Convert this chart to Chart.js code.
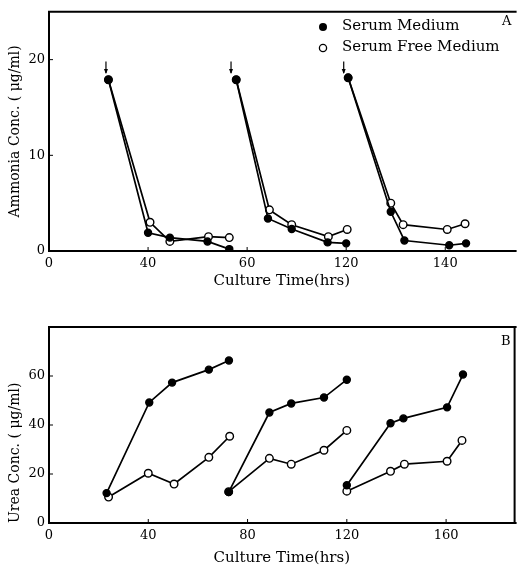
<!DOCTYPE html>
<html>
<head>
<meta charset="utf-8">
<script src="https://cdn.jsdelivr.net/npm/chart.js@4.4.1/dist/chart.umd.min.js"></script>
<style>
  body { margin: 0; background: #fff; }
  .panel { position: absolute; left: 0; }
</style>
</head>
<body>
<div class="panel" style="top:0px"><canvas id="chartA" width="520" height="290"></canvas></div>
<div class="panel" style="top:290px"><canvas id="chartB" width="520" height="279"></canvas></div>
<script>
// Panel A - ammonia, null splits the three feeding cycles
const ammoniaSerumHrs = [24, 40, 48.8, 64, 72.8, null, 75.6, 88.4, 98, 112.5, 120, null, 120.8, 138, 143.5, 161.6, 168.4];
const ammoniaSerum    = [17.9, 1.9, 1.4, 1.0, 0.2, null, 17.9, 3.4, 2.3, 0.9, 0.8, null, 18.1, 4.1, 1.1, 0.6, 0.8];
const ammoniaFreeHrs  = [24, 40.8, 48.8, 64.4, 72.8, null, 75.6, 89, 98, 112.8, 120.4, null, 120.8, 138, 143, 160.8, 168];
const ammoniaFree     = [17.9, 3.0, 1.0, 1.5, 1.4, null, 17.9, 4.3, 2.75, 1.5, 2.25, null, 18.1, 5.0, 2.75, 2.25, 2.85];
const feedHrs = [23, 73.5, 119];

// Panel B - urea
const ureaSerumHrs = [23.2, 40.4, 49.6, 64.4, 72.5, null, 72.4, 88.8, 97.6, 110.8, 120, null, 120, 137.6, 142.8, 160.4, 166.8];
const ureaSerum    = [12.2, 49.2, 57.3, 62.6, 66.3, null, 12.6, 45.1, 48.8, 51.2, 58.5, null, 15.4, 40.7, 42.7, 47.2, 60.6];
const ureaFreeHrs  = [24, 40, 50.4, 64.4, 72.8, null, 72.4, 88.8, 97.6, 110.8, 120, null, 120, 137.6, 143.2, 160.4, 166.4];
const ureaFree     = [10.6, 20.3, 15.9, 26.8, 35.4, null, 12.8, 26.4, 24.0, 29.7, 37.8, null, 13.0, 21.1, 24.0, 25.2, 33.7];

// tick values and the labels printed under them
const xTicks = [0, 40, 80, 120, 160];
const xTickLabelsA = ['0', '40', '60', '120', '140'];
const xTickLabelsB = ['0', '40', '80', '120', '160'];
const yTicksA = [0, 10, 20];
const yTicksB = [0, 20, 40, 60];

const FONT = "'DejaVu Serif', serif";

function pts(hrs, vals) {
  return hrs.map((x, i) => ({ x: x === null ? hrs[i - 1] : x, y: vals[i] }));
}

function ds(hrs, vals, filled) {
  return {
    data: pts(hrs, vals),
    borderColor: '#000',
    borderWidth: 1.7,
    pointRadius: filled ? 3.5 : 3.8,
    pointBackgroundColor: filled ? '#000' : '#fff',
    pointBorderColor: '#000',
    pointBorderWidth: 1.4,
    tension: 0,
    spanGaps: false
  };
}

// frame round the plot plus short inward ticks
function makeFrame(rightEdge) {
  return {
    id: 'frame',
    afterDraw(chart) {
      const { ctx, chartArea: a, scales } = chart;
      ctx.save();
      ctx.strokeStyle = '#000';
      ctx.lineWidth = 2;
      ctx.beginPath();
      ctx.moveTo(a.right + 2, a.top);
      ctx.lineTo(a.left, a.top);
      ctx.lineTo(a.left, a.bottom);
      ctx.lineTo(a.right + 2, a.bottom);
      if (rightEdge) {
        ctx.moveTo(a.right, a.top);
        ctx.lineTo(a.right, a.bottom);
      }
      ctx.stroke();
      ctx.lineWidth = 1;
      ctx.beginPath();
      scales.x.ticks.forEach(t => {
        const x = scales.x.getPixelForValue(t.value);
        ctx.moveTo(x, a.bottom); ctx.lineTo(x, a.bottom - 4);
      });
      scales.y.ticks.forEach(t => {
        const y = scales.y.getPixelForValue(t.value);
        ctx.moveTo(a.left, y); ctx.lineTo(a.left + 4, y);
      });
      ctx.stroke();
      ctx.restore();
    }
  };
}

function baseOptions(xLabels, yTicks, yMax, yTitle, yAlign) {
  return {
    responsive: false,
    animation: false,
    layout: { padding: { left: 0, right: 2, top: 0, bottom: 0 } },
    plugins: { legend: { display: false }, tooltip: { enabled: false } },
    scales: {
      x: {
        type: 'linear', min: 0, max: 188,
        grid: { display: false, drawTicks: false },
        border: { display: false },
        afterBuildTicks: s => { s.ticks = xTicks.map(v => ({ value: v })); },
        ticks: {
          color: '#000', padding: 5, font: { family: FONT, size: 13 },
          callback: (v, i) => xLabels[i]
        },
        title: {
          display: true, text: 'Culture Time(hrs)', color: '#000',
          font: { family: FONT, size: 15 }, padding: { top: 0, bottom: 0 }
        }
      },
      y: {
        min: 0, max: yMax,
        grid: { display: false, drawTicks: false },
        border: { display: false },
        afterBuildTicks: s => { s.ticks = yTicks.map(v => ({ value: v })); },
        afterFit: s => { s.width = 49; },
        ticks: { color: '#000', padding: 4, font: { family: FONT, size: 13 } },
        title: {
          display: true, text: yTitle, color: '#000', align: yAlign,
          font: { family: FONT, size: 14 }, padding: { top: 7, bottom: 0 }
        }
      }
    }
  };
}

// panel A extras: legend, feed arrows, letter
const extrasA = {
  id: 'extrasA',
  afterDraw(chart) {
    const { ctx, scales } = chart;
    ctx.save();
    ctx.strokeStyle = '#000';
    ctx.fillStyle = '#000';
    ctx.lineWidth = 1.2;
    feedHrs.forEach(t => {
      const x = scales.x.getPixelForValue(t);
      const y1 = scales.y.getPixelForValue(19.8);
      const y2 = scales.y.getPixelForValue(18.6);
      ctx.beginPath(); ctx.moveTo(x, y1); ctx.lineTo(x, y2); ctx.stroke();
      ctx.beginPath(); ctx.moveTo(x - 2, y2 - 4); ctx.lineTo(x + 2, y2 - 4); ctx.lineTo(x, y2 + 1); ctx.closePath(); ctx.fill();
    });
    ctx.beginPath(); ctx.arc(323, 27, 4, 0, Math.PI * 2); ctx.fill();
    ctx.beginPath(); ctx.arc(323, 48, 3.6, 0, Math.PI * 2);
    ctx.fillStyle = '#fff'; ctx.fill(); ctx.lineWidth = 1.3; ctx.stroke();
    ctx.fillStyle = '#000';
    ctx.font = "15px " + FONT;
    ctx.textBaseline = 'middle';
    ctx.fillText('Serum Medium', 342, 26);
    ctx.fillText('Serum Free Medium', 342, 47);
    ctx.font = "13px " + FONT;
    ctx.fillText('A', 502, 22);
    ctx.restore();
  }
};

const extrasB = {
  id: 'extrasB',
  afterDraw(chart) {
    const { ctx } = chart;
    ctx.save();
    ctx.fillStyle = '#000';
    ctx.font = "13px " + FONT;
    ctx.textBaseline = 'middle';
    ctx.fillText('B', 501, 52);
    ctx.restore();
  }
};

const optsA = baseOptions(xTickLabelsA, yTicksA, 25, 'Ammonia Conc. ( \u03bcg/ml)', 'center');
optsA.layout.padding.top = 5;
optsA.scales.x.afterFit = s => { s.height = 39; };

new Chart(document.getElementById('chartA'), {
  type: 'line',
  data: {
    datasets: [
      ds(ammoniaSerumHrs, ammoniaSerum, true),
      ds(ammoniaFreeHrs, ammoniaFree, false)
    ]
  },
  options: optsA,
  plugins: [makeFrame(false), extrasA]
});

const optsB = baseOptions(xTickLabelsB, yTicksB, 80, 'Urea Conc. ( \u03bcg/ml)', 'start');
optsB.layout.padding.top = 37;
optsB.scales.x.afterFit = s => { s.height = 46; };
optsB.scales.x.max = 187.6;
optsB.scales.x.title.padding = { top: 0, bottom: 2 };

new Chart(document.getElementById('chartB'), {
  type: 'line',
  data: {
    datasets: [
      ds(ureaSerumHrs, ureaSerum, true),
      ds(ureaFreeHrs, ureaFree, false)
    ]
  },
  options: optsB,
  plugins: [makeFrame(true), extrasB]
});
</script>
</body>
</html>
